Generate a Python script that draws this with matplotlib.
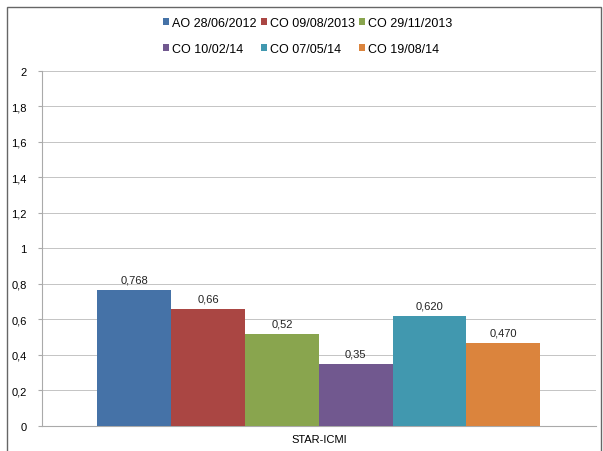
import matplotlib.pyplot as plt
import numpy as np
from matplotlib.patches import Rectangle

# data
series = ["AO 28/06/2012", "CO 09/08/2013", "CO 29/11/2013",
          "CO 10/02/14", "CO 07/05/14", "CO 19/08/14"]
values = [0.768, 0.66, 0.52, 0.35, 0.62, 0.47]
value_labels = ["0,768", "0,66", "0,52", "0,35", "0,620", "0,470"]
category = "STAR-ICMI"
colors = ["#4572A7", "#AA4643", "#89A54E", "#71588F", "#4198AF", "#DB843D"]

plt.rcParams['font.family'] = ['Liberation Sans', 'DejaVu Sans']

fig = plt.figure(figsize=(6.03, 4.52), dpi=100)
ax = fig.add_axes([0.0697, 0.0553, 0.918, 0.7857])

w = 0.8 / len(values)
x0 = -0.4 + w / 2
handles = []
for i, (v, lab, c) in enumerate(zip(values, value_labels, colors)):
    b = ax.bar(x0 + i * w, v, width=w, color=c, label=series[i], zorder=3)
    handles.append(b)
    ax.text(x0 + i * w, v + 0.03, lab, ha='center', va='bottom',
            fontsize=8, color='#222222', zorder=4)

ax.set_xlim(-0.5, 0.5)
ax.set_ylim(0, 2)
yt = np.arange(0, 2.01, 0.2)
ax.set_yticks(yt)
ax.set_yticklabels([("%g" % t).replace('.', ',') for t in yt], fontsize=8)
ax.set_xticks([0])
ax.set_xticklabels([category], fontsize=8)
ax.tick_params(axis='x', length=0, pad=6)
ax.tick_params(axis='y', length=3, color='#aaaaaa', pad=8)
ax.yaxis.grid(True, color='#c4c4c4', linestyle='-', linewidth=0.7, zorder=0)
for s in ['top', 'right']:
    ax.spines[s].set_visible(False)
for s in ['left', 'bottom']:
    ax.spines[s].set_color('#aaaaaa')

# row-wise legend order
order = [0, 3, 1, 4, 2, 5]
ax.legend([handles[k] for k in order], [series[k] for k in order],
          ncol=3, loc='center', bbox_to_anchor=(0.48, 1.098), frameon=False,
          fontsize=9, handlelength=0.45, handleheight=0.45, handletextpad=0.25,
          columnspacing=0.35, labelspacing=1.1)

# outer border
fig.patches.append(Rectangle((0.012, -0.05), 0.985, 1.032, transform=fig.transFigure,
                             fill=False, edgecolor='#666666', linewidth=1.0))

fig.savefig("out.png", dpi=100)
